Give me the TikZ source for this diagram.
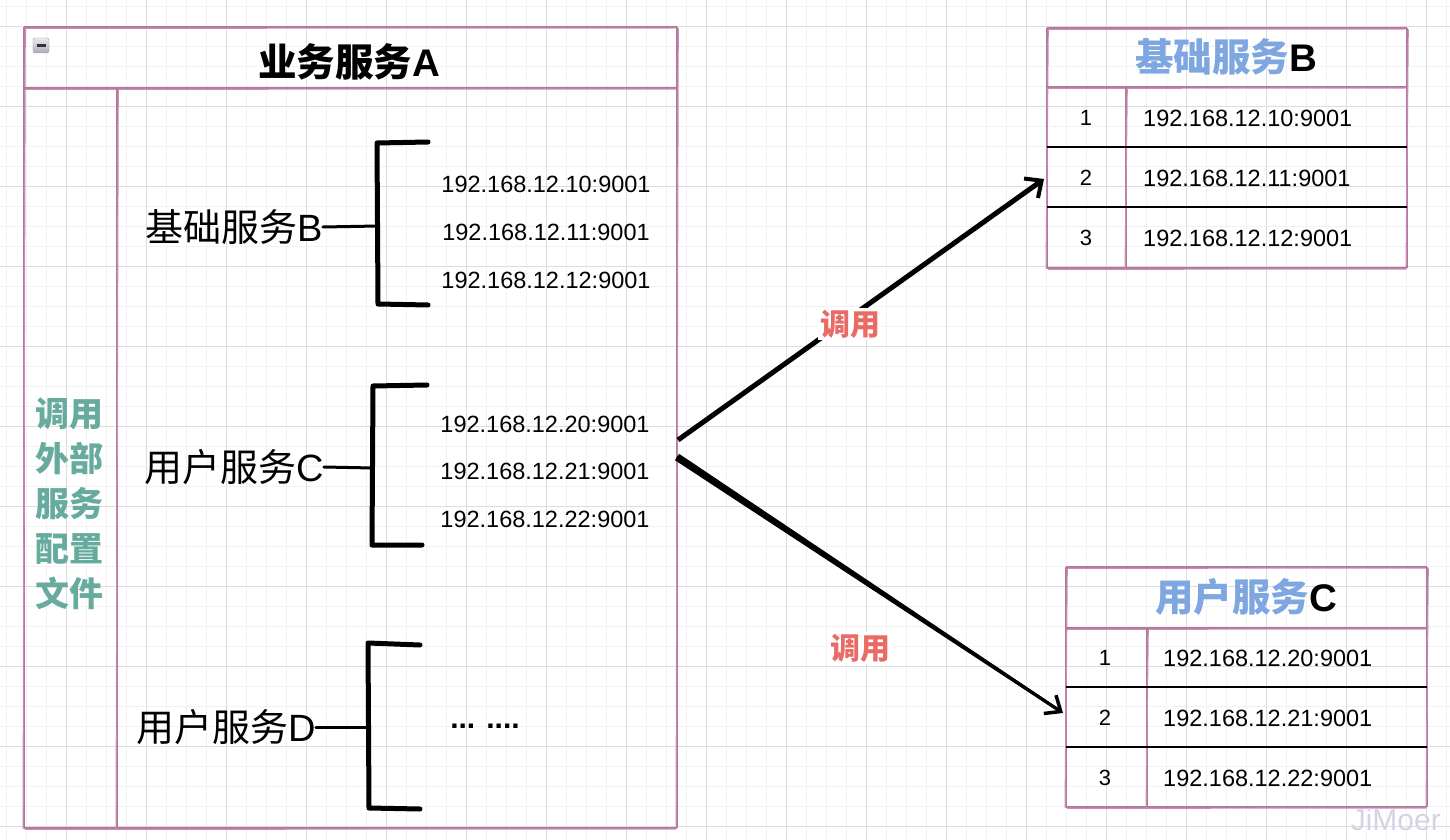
\documentclass[tikz,border=0pt]{standalone}
\usepackage{fontspec}
\setmainfont{Liberation Sans}
\newfontfamily\cjk{Noto Sans CJK SC}
\usetikzlibrary{arrows.meta,calc}
\definecolor{mauve}{HTML}{B5739D}
\definecolor{tealc}{HTML}{67AB9F}
\definecolor{bluec}{HTML}{7EA6E0}
\definecolor{redc}{HTML}{EA6B66}
\definecolor{gridminor}{HTML}{F2F2F2}
\definecolor{gridmajor}{HTML}{DDDDDD}
\definecolor{wmark}{HTML}{D3D3E6}
\newcommand\skline[4]{%
  \draw[sk] (#1,#2) -- (#3,#4);
  \draw[sktwo] ($(#1,#2)+(1.2,1.3)$) -- ($(#3,#4)+(-0.9,0.9)$);}
\begin{document}
\begin{tikzpicture}[x=1pt,y=-1pt,
  sk/.style={draw=mauve,line width=2.3pt},
  sktwo/.style={draw=mauve!80,line width=1.2pt},
  ip/.style={font=\fontsize{23.5}{26}\selectfont, inner sep=0pt},
  num/.style={font=\fontsize{22}{26}\selectfont, inner sep=0pt},
  lbl/.style={font=\fontsize{38}{42}\selectfont, inner sep=0pt},
  ttl/.style={font=\fontsize{38.5}{42}\selectfont\bfseries, inner sep=0pt},
  brk/.style={line width=5pt, line cap=round, line join=round},
  tickln/.style={line width=3pt, line cap=round},
  rowline/.style={line width=1.8pt},
  call/.style={font=\cjk\bfseries\fontsize{30}{32}\selectfont, text=redc, fill=white, inner sep=2pt},
  arr/.style={line width=5pt, -{Straight Barb[length=13pt,width=24pt,line width=4pt]}},
]
\useasboundingbox (0,0) rectangle (1450,840);
\fill[white] (0,0) rectangle (1450,840);
% grid
\foreach \x in {6.7,26.7,...,1450} \draw[gridminor, line width=1pt] (\x,0) -- (\x,840);
\foreach \y in {6.7,26.7,...,840} \draw[gridminor, line width=1pt] (0,\y) -- (1450,\y);
\foreach \x in {66.7,146.7,...,1450} \draw[gridmajor, line width=1pt] (\x,0) -- (\x,840);
\foreach \y in {26.7,106.7,...,840} \draw[gridmajor, line width=1pt] (0,\y) -- (1450,\y);

% ---------- Box A ----------
\skline{24}{27}{677}{27}
\skline{24}{828}{677}{828}
\skline{24}{27}{24}{828}
\skline{677}{27}{677}{828}
\skline{24}{88}{677}{88}
\skline{117}{88}{117}{828}
\shade[top color=blue!5!gray!15,bottom color=blue!10!gray!60,draw=gray!75,rounded corners=1.5pt] (33,38) rectangle (49,53);
\draw[line width=2.5pt,black!80] (36.5,45.5) -- (45.5,45.5);
\node[ttl] (tA) at (349,62) {{\cjk 业务服务}A};
\node[font=\cjk\bfseries\fontsize{34}{45}\selectfont, text=tealc, align=center, inner sep=0pt] (cfg) at (69,504) {调用\\外部\\服务\\配置\\文件};

% brace 1
\node[lbl] (lB) at (234,227) {{\cjk 基础服务}B};
\coordinate (b1m) at (378,226);
\draw[brk] (428,142) -- (377,143) -- (378,304) -- (428,305);
\draw[tickln] (lB.east) -- (b1m);
\node[ip] (ip10) at (546,184) {192.168.12.10:9001};
\node[ip] (ip11) at (546,232) {192.168.12.11:9001};
\node[ip] (ip12) at (546,280) {192.168.12.12:9001};

% brace 2
\node[lbl] (lC) at (234,467) {{\cjk 用户服务}C};
\coordinate (b2m) at (373,468);
\draw[brk] (427,385) -- (373,386) -- (372,545) -- (422,545);
\draw[tickln] (lC.east) -- (b2m);
\node[ip] (ip20) at (545,424) {192.168.12.20:9001};
\node[ip] (ip21) at (545,471) {192.168.12.21:9001};
\node[ip] (ip22) at (545,519) {192.168.12.22:9001};

% brace 3
\node[lbl] (lD) at (226,727) {{\cjk 用户服务}D};
\coordinate (b3m) at (368,727);
\draw[brk] (420,645) -- (368,643) -- (369,808) -- (420,809);
\draw[tickln] (lD.east) -- (b3m);
\node[font=\bfseries\fontsize{30}{32}\selectfont, inner sep=0pt] (dots) at (485,726) {... ....};

% ---------- Table B ----------
\skline{1047}{28}{1407}{28}
\skline{1047}{268}{1407}{268}
\skline{1047}{28}{1047}{268}
\skline{1407}{28}{1407}{268}
\skline{1047}{87}{1407}{87}
\skline{1126}{87}{1126}{268}
\draw[rowline] (1047,147) -- (1407,147);
\draw[rowline] (1047,207) -- (1407,207);
\node[ttl] (tB) at (1226,57) {{\cjk\color{bluec}基础服务}B};
\node[num] (nB1) at (1086,118) {1};
\node[num] (nB2) at (1086,178) {2};
\node[num] (nB3) at (1086,238) {3};
\node[ip,anchor=west] (iB1) at (1143,118) {192.168.12.10:9001};
\node[ip,anchor=west] (iB2) at (1143,178) {192.168.12.11:9001};
\node[ip,anchor=west] (iB3) at (1143,238) {192.168.12.12:9001};

% ---------- Table C ----------
\skline{1066}{567}{1427}{567}
\skline{1066}{807}{1427}{807}
\skline{1066}{567}{1066}{807}
\skline{1427}{567}{1427}{807}
\skline{1066}{628}{1427}{628}
\skline{1147}{628}{1147}{807}
\draw[rowline] (1066,687) -- (1427,687);
\draw[rowline] (1066,747) -- (1427,747);
\node[ttl] (tC) at (1246,597) {{\cjk\color{bluec}用户服务}C};
\node[num] (nC1) at (1105,658) {1};
\node[num] (nC2) at (1105,718) {2};
\node[num] (nC3) at (1105,778) {3};
\node[ip,anchor=west] (iC1) at (1163,658) {192.168.12.20:9001};
\node[ip,anchor=west] (iC2) at (1163,718) {192.168.12.21:9001};
\node[ip,anchor=west] (iC3) at (1163,778) {192.168.12.22:9001};

% ---------- arrows ----------
\coordinate (s1) at (678,440);
\coordinate (e1) at (1044,179);
\coordinate (s2) at (677,457);
\coordinate (e2) at (1063,713);
\draw[arr] (s1) -- (e1);
\fill ($(s2)!3.8pt!90:(e2)$) -- ($(e2)!6pt!(s2)!1.5pt!-90:(s2)$) -- ($(e2)!6pt!(s2)!1.5pt!90:(s2)$) -- ($(s2)!3.8pt!-90:(e2)$) -- cycle;
\draw[line width=3pt, -{Straight Barb[length=13pt,width=22pt,line width=3.5pt]}] (s2) -- (e2);
\node[call] (c1) at (850,324) {调用};
\node[call] (c2) at (860,648) {调用};

% watermark
\node[font=\fontsize{30}{32}\selectfont, text=wmark, anchor=base east, inner sep=0pt] (wm) at (1441,830) {JiMoer};
\end{tikzpicture}
\end{document}
